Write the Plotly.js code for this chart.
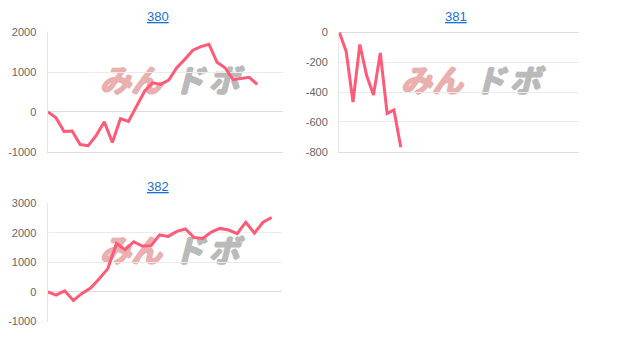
<!DOCTYPE html>
<html>
<head>
<meta charset="utf-8">
<script src="https://cdn.plot.ly/plotly-3.0.1.min.js"></script>
<style>html,body{margin:0;padding:0;background:#fff;}#chart{width:620px;height:345px;}</style>
</head>
<body>
<div id="chart"></div>
<script>
// ---- data ----
const titles = ["380", "381", "382"];
const values380 = [0, -150, -490, -480, -820, -850, -590, -250, -770, -170, -240, 150, 520, 730, 690, 800, 1110, 1320, 1550, 1640, 1700, 1250, 1110, 810, 840, 870, 690];
const values381 = [0, -128, -468, -82, -290, -420, -138, -543, -520, -770];
const values382 = [0, -110, 40, -290, -50, 130, 450, 790, 1640, 1430, 1700, 1555, 1560, 1930, 1880, 2050, 2130, 1840, 1810, 2025, 2150, 2095, 1970, 2360, 1990, 2360, 2520];
const yTicks380 = [-1000, 0, 1000, 2000];
const yTicks381 = [-800, -600, -400, -200, 0];
const yTicks382 = [-1000, 0, 1000, 2000, 3000];
const watermarkA = "みん";
const watermarkB1 = "ド";
const watermarkB2 = "ボ";

// ---- layout helpers ----
const W = 620, H = 345;
const px = v => v / W;
const py = v => 1 - v / H;
const idx = arr => arr.map((_, i) => i);

const lineStyle = {color: '#ff5a78', width: 3};
const traces = [
  {x: idx(values380), y: values380, xaxis: 'x', yaxis: 'y', type: 'scatter', mode: 'lines', line: lineStyle, hoverinfo: 'skip'},
  {x: idx(values381), y: values381, xaxis: 'x2', yaxis: 'y2', type: 'scatter', mode: 'lines', line: lineStyle, hoverinfo: 'skip'},
  {x: idx(values382), y: values382, xaxis: 'x3', yaxis: 'y3', type: 'scatter', mode: 'lines', line: lineStyle, hoverinfo: 'skip'}
];

const tickFont = {family: 'Liberation Sans, Arial, sans-serif', size: 11, color: '#666'};
function xAx(domain, range) {
  return {domain: domain, range: range, showticklabels: false, showgrid: false, zeroline: false,
          showline: true, linecolor: '#dcdcdc', linewidth: 1, ticks: '', fixedrange: true};
}
function yAx(domain, range, ticks, anchor) {
  return {domain: domain, range: range, tickvals: ticks, ticktext: ticks.map(String), tickfont: tickFont,
          showgrid: true, gridcolor: '#ebebeb', gridwidth: 1, zeroline: true, zerolinecolor: '#dcdcdc', zerolinewidth: 1,
          showline: true, linecolor: '#e6e6e6', linewidth: 1, ticks: 'outside', ticklen: 8, tickcolor: 'rgba(0,0,0,0)',
          anchor: anchor, fixedrange: true};
}

const titleFont = {family: 'Liberation Sans, Arial, sans-serif', size: 13, color: '#1a6fd6'};
function titleAnn(text, x, y) {
  return {text: '<u>' + text + '</u>', x: px(x), y: py(y), xref: 'paper', yref: 'paper', showarrow: false,
          xanchor: 'center', yanchor: 'middle', font: titleFont};
}

function wm(text, cx, halfW, y0, y1, color) {
  return {type: 'rect', xref: 'paper', yref: 'paper', x0: px(cx - halfW), x1: px(cx + halfW), y0: py(y1), y1: py(y0),
          line: {width: 0}, fillcolor: 'rgba(0,0,0,0)', layer: 'below',
          label: {text: '<b><i>' + text + '</i></b>', textposition: 'middle center',
                  font: {family: 'Noto Sans CJK JP, sans-serif', size: 31, color: color, weight: 'bold', style: 'italic',
                         shadow: '1px 0 0 ' + color + ', -1px 0 0 ' + color + ', 0 1px 0 ' + color + ', 0 -1px 0 ' + color}}};
}
const pink = 'rgb(234,176,176)';
const gray = 'rgb(186,186,186)';
function watermarkSet(dx, dy) {
  return [wm(watermarkA, 131 + dx, 30, 70 + dy, 97 + dy, pink),
          wm(watermarkB1, 189 + dx, 16, 70 + dy, 97 + dy, gray),
          wm(watermarkB2, 224 + dx, 16, 70 + dy, 97 + dy, gray)];
}

const layout = {
  width: W, height: H, margin: {l: 0, r: 0, t: 0, b: 0},
  paper_bgcolor: '#fff', plot_bgcolor: '#fff', showlegend: false,
  xaxis: xAx([px(47.5), px(283)], [-0.06, 29.2]),
  yaxis: yAx([py(151.7), py(32.3)], [-1000, 2000], yTicks380, 'x'),
  xaxis2: xAx([px(339), px(579.3)], [-0.05, 35.15]),
  yaxis2: yAx([py(151.7), py(32.3)], [-800, 0], yTicks381, 'x2'),
  xaxis3: xAx([px(47.5), px(282)], [0, 27.2]),
  yaxis3: yAx([py(321.5), py(203.3)], [-1000, 3000], yTicks382, 'x3'),
  annotations: [titleAnn(titles[0], 158.5, 16.5), titleAnn(titles[1], 456, 16.5), titleAnn(titles[2], 158, 186.5)],
  shapes: [].concat(watermarkSet(0, 0), watermarkSet(301, 0), watermarkSet(0, 170))
};

Plotly.newPlot('chart', traces, layout, {displayModeBar: false, staticPlot: true});
</script>
</body>
</html>
